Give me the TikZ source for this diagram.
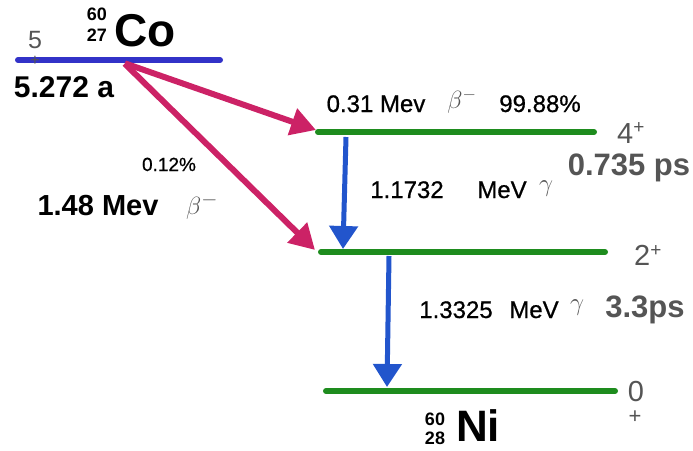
\documentclass[tikz,border=0pt]{standalone}
\usepackage{fontspec}
\setmainfont{Liberation Sans}
\newfontfamily\medfont{Liberation Sans}[FakeBold=0.7]
\usetikzlibrary{arrows.meta}
\definecolor{coblue}{HTML}{3232C8}
\definecolor{decmag}{HTML}{CC2266}
\definecolor{lvgreen}{HTML}{1E8C1E}
\definecolor{gamblue}{HTML}{2255CC}
\definecolor{txtgray}{HTML}{555555}
\newcommand{\fs}[1]{\fontsize{#1}{#1}\selectfont}
\tikzset{
  level/.style={line width=6pt, line cap=round},
  betaarrow/.style={decmag, line width=6pt, -{Triangle[length=25pt,width=27pt]}, shorten <=1pt},
  gammaarrow/.style={gamblue, line width=5pt, -{Triangle[length=23pt,width=28pt]}},
  lbl/.style={inner sep=0pt, anchor=center},
  med/.style={lbl, font=\medfont, anchor=base},
}
\begin{document}
\begin{tikzpicture}[x=1pt,y=-1pt]
\useasboundingbox (0,0) rectangle (693,450);
% levels
\coordinate (coL) at (18,60); \coordinate (coR) at (220,60);
\coordinate (l4L) at (318,132); \coordinate (l4R) at (594,132);
\coordinate (l2L) at (321,252); \coordinate (l2R) at (605,252);
\coordinate (l0L) at (326,391); \coordinate (l0R) at (615,391);
\draw[level, coblue] (coL) -- (coR);
\draw[level, lvgreen] (l4L) -- (l4R);
\draw[level, lvgreen] (l2L) -- (l2R);
\draw[level, lvgreen] (l0L) -- (l0R);
% beta arrows
\coordinate (bs) at (124,63);
\coordinate (b1) at (316,130);
\coordinate (b2) at (315,250);
\draw[betaarrow] (bs) -- (b1);
\draw[betaarrow] (bs) -- (b2);
% gamma arrows
\coordinate (g1s) at (346,137); \coordinate (g1e) at (343,249);
\coordinate (g2s) at (389,256); \coordinate (g2e) at (387,387);
\draw[gammaarrow] (g1s) -- (g1e);
\draw[gammaarrow] (g2s) -- (g2e);
% Co labels
\node[lbl, text=txtgray] (spin5) at (35,40) {\fs{25}5};
\node[lbl, text=txtgray] (spin5p) at (35,61) {\fs{16}+};
\node[lbl, font=\bfseries, anchor=base] (co) at (145,46) {\fs{46}Co};
\node[lbl, font=\bfseries] (coA) at (97,14) {\fs{18}60};
\node[lbl, font=\bfseries] (coZ) at (97,35) {\fs{18}27};
\node[lbl, font=\bfseries, anchor=base] (cohalf) at (64,97) {\fs{30}5.272 a};
% beta labels
\node[med] (b1e) at (376,112) {\fs{24}0.31 Mev};
\node[lbl, text=txtgray] (b1b) at (462,101) {\fs{26}$\beta^{-}$};
\node[med] (b1p) at (540,112) {\fs{24}99.88\%};
\node[med] (b2p) at (169,171) {\fs{19}0.12\%};
\node[lbl, font=\bfseries, anchor=base] (b2e) at (98,215) {\fs{29}1.48 Mev};
\node[lbl, text=txtgray] (b2b) at (202,206) {\fs{29}$\beta^{-}$};
% level labels
\node[lbl, text=txtgray] (s4) at (631,133) {\fs{29}4$^{\mbox{\fs{19}+}}$};
\node[lbl, text=txtgray, font=\bfseries, anchor=base] (t4) at (629,175) {\fs{31}0.735 ps};
\node[lbl, text=txtgray] (s2) at (648,255) {\fs{29}2$^{\mbox{\fs{19}+}}$};
\node[lbl, text=txtgray] (s0) at (636,392) {\fs{29}0};
\node[lbl, text=txtgray] (s0p) at (635,417) {\fs{22}+};
% gamma labels
\node[med] (g1n) at (407,198) {\fs{24}1.1732};
\node[med] (g1m) at (502,198) {\fs{24}MeV};
\node[lbl, text=txtgray] (g1g) at (546,189) {\fs{24}$\gamma$};
\node[med] (g2n) at (456,318) {\fs{24}1.3325};
\node[med] (g2m) at (534,318) {\fs{24}MeV};
\node[lbl, text=txtgray] (g2g) at (577,308) {\fs{24}$\gamma$};
\node[lbl, text=txtgray, font=\bfseries, anchor=base] (t2) at (645,317) {\fs{31}3.3ps};
% Ni
\node[lbl, font=\bfseries, anchor=base, text depth=0pt] (ni) at (478,441) {\fs{44}Ni};
\node[lbl, font=\bfseries] (niA) at (435,419) {\fs{18}60};
\node[lbl, font=\bfseries] (niZ) at (435,438) {\fs{18}28};
\end{tikzpicture}
\end{document}
